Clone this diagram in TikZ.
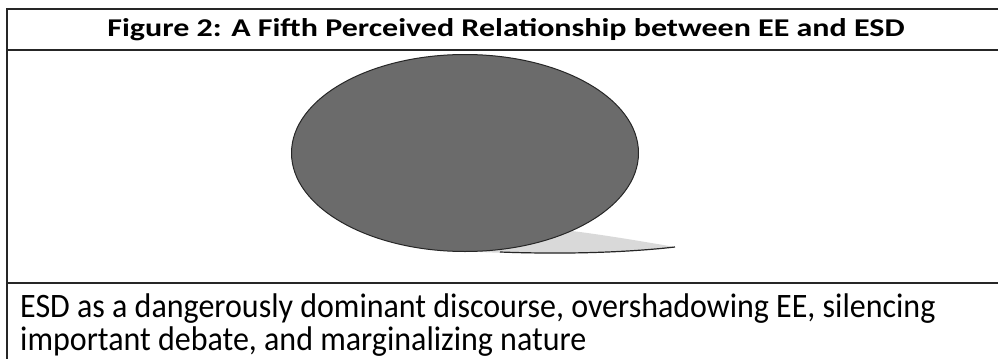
\documentclass[tikz,border=0pt]{standalone}
\usepackage{fontspec}
\usepackage{graphicx}
\setmainfont{Carlito}
\usetikzlibrary{shapes.geometric, positioning}

\begin{document}
\begin{tikzpicture}[x=1pt, y=-1pt,
    rule/.style={draw=black!85, line width=1.5pt},
    titletext/.style={font=\fontsize{32}{34}\selectfont\bfseries, inner sep=0pt, anchor=base},
    captext/.style={font=\fontsize{32}{26.2}\selectfont, inner sep=0pt, anchor=base west},
    bubble/.style={ellipse, draw=black!85, fill=black!58, line width=1pt, minimum width=347pt, minimum height=197pt, inner sep=0pt},
    shadow/.style={fill=black!15, draw=none}]
    \useasboundingbox (0,0) rectangle (998,359);
    % table rules
    \coordinate (tl) at (7,9);
    \coordinate (tr) at (998,9);
    \coordinate (ml) at (7,50);
    \coordinate (mr) at (998,50);
    \coordinate (bl) at (7,283);
    \coordinate (br) at (998,283);
    \coordinate (foot) at (7,359);
    \draw [rule] (tr) -- (tl) -- (foot);
    \draw [rule] (ml) -- (mr);
    \draw [rule] (bl) -- (br);
    % title row
    \node [titletext] (title) at (506,36.5) {\scalebox{1}[0.8]{Figure 2: A Fifth Perceived Relationship between EE and ESD}};
    % bubble with its shadow tail
    \coordinate (tip) at (675,247);
    \fill [shadow] (480,252) .. controls (570,256) and (640,251) .. (tip)
        .. controls (640,241) and (610,236) .. (580,232) -- (480,220) -- cycle;
    \draw [black!85, line width=1.2pt] (500,252) .. controls (580,255) and (640,251) .. (tip);
    \node [bubble] (bubble) at (465,153) {};
    % caption row
    \node [captext] (caption) at (20,350) {\scalebox{1}[1.07]{\begin{tabular}[b]{@{}l@{}}ESD as a dangerously dominant discourse, overshadowing EE, silencing\\important debate, and marginalizing nature\end{tabular}}};
\end{tikzpicture}
\end{document}
